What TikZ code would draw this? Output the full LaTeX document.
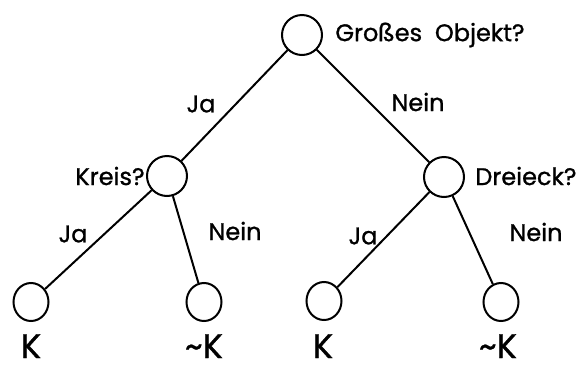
\documentclass[tikz,border=0pt]{standalone}
\usepackage{fontspec}
\setmainfont{Poppins}[FakeBold=1]
\usetikzlibrary{positioning, shapes.geometric}

\begin{document}
\begin{tikzpicture}[x=0.5pt, y=-0.5pt,
		decision/.style={circle, draw, black, line width=1pt, minimum size=20pt, inner sep=0pt},
		leaf/.style={ellipse, draw, black, line width=1pt, minimum width=17.5pt, minimum height=19pt, inner sep=0pt},
		lbl/.style={font=\fontsize{12}{14}\selectfont, inner sep=0pt},
		klbl/.style={font=\fontsize{17}{20}\selectfont, inner sep=0pt, text depth=0pt, anchor=base}]
		
		\useasboundingbox (0,0) rectangle (580,365);
		
		%Circles
		\node[decision] (root) at (302,35){};
		\node[decision] (kreis) at (167,176){};
		\node[decision] (dreieck) at (444,177){};
		\node[leaf] (A) at (31,302){};
		\node[leaf] (B) at (204,302){};
		\node[leaf] (C) at (324,301){};
		\node[leaf] (D) at (501,302){};
		
		%Links
		\draw[line width=1pt] (root) -- (kreis);
		\draw[line width=1pt] (root) -- (dreieck);
		\draw[line width=1pt] (kreis) -- (A);
		\draw[line width=1pt] (kreis) -- (B);
		\draw[line width=1pt] (dreieck) -- (C);
		\draw[line width=1pt] (dreieck) -- (D);
		
		%Questions
		\node[lbl, anchor=west] (qroot) at (335,35){Großes\ \ Objekt?};
		\node[lbl, anchor=east] (qkreis) at (145,176){Kreis?};
		\node[lbl, anchor=west] (qdreieck) at (475,176){Dreieck?};
		
		%Answers
		\node[lbl] (ja1) at (201,104){Ja};
		\node[lbl] (nein1) at (418,102){Nein};
		\node[lbl] (ja2) at (73,234){Ja};
		\node[lbl] (nein2) at (235,231){Nein};
		\node[lbl] (ja3) at (363,236){Ja};
		\node[lbl] (nein3) at (536,232){Nein};
		
		%Results
		\node[klbl] (kA) at (31,358){K};
		\node[klbl] (kB) at (204,358){\textasciitilde K};
		\node[klbl] (kC) at (323,358){K};
		\node[klbl] (kD) at (498,358){\textasciitilde K};
		
\end{tikzpicture}
\end{document}
